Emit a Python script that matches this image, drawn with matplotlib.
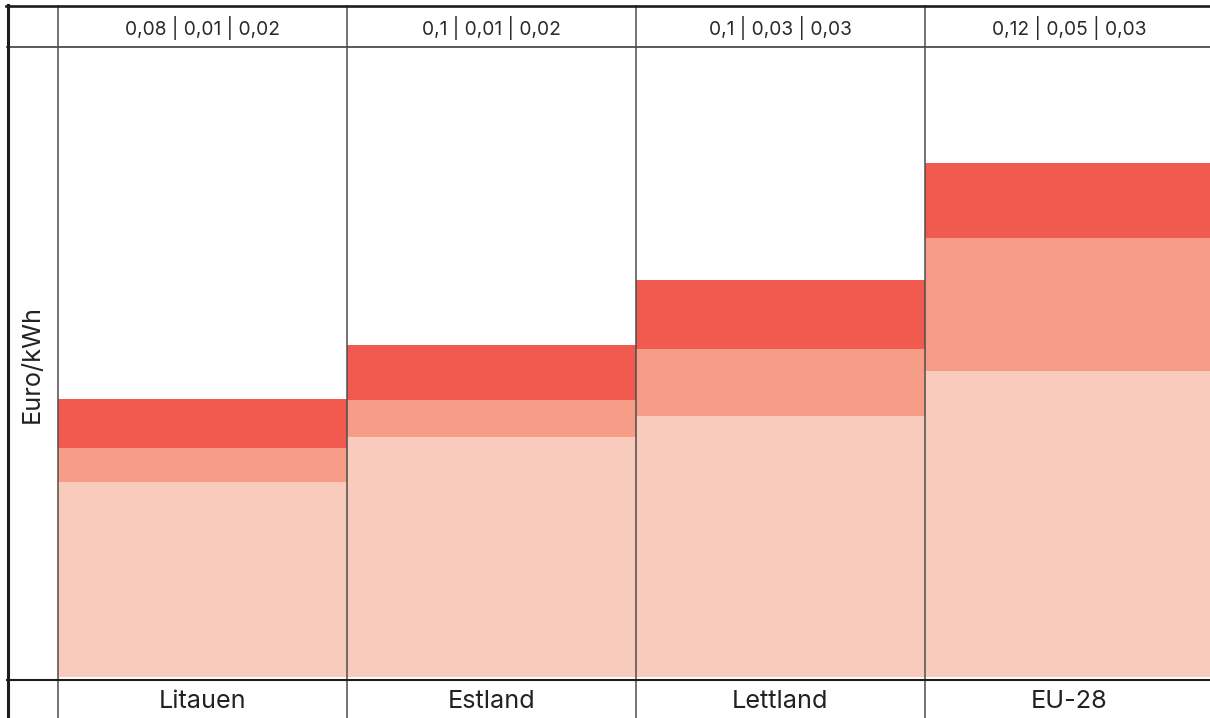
import matplotlib
matplotlib.use("Agg")
import matplotlib.pyplot as plt
from matplotlib.lines import Line2D
from matplotlib import transforms

plt.rcParams['font.family'] = ['Inter', 'DejaVu Sans']

# Strompreis-Zusammensetzung in Euro/kWh
laender = ['Litauen', 'Estland', 'Lettland', 'EU-28']
energie = [0.0776, 0.0952, 0.1037, 0.1215]
netz = [0.0134, 0.0149, 0.0266, 0.0527]
steuern = [0.0194, 0.0218, 0.0274, 0.0297]

farben = ['#F9CBBC', '#F59D87', '#F05A4F']
linie_dunkel = '#1c1c1c'
linie_grau = '#4d4d4d'

W, H = 1210, 718
fig = plt.figure(figsize=(W / 100, H / 100), dpi=100)


def fx(px):
    return px / W


def fy(py):
    return 1 - py / H


# Plotbereich zwischen Kopfzeile und Fusszeile
ax_l, ax_r, ax_t, ax_b = 58, 1210, 47, 680
ax = fig.add_axes([fx(ax_l), fy(ax_b), fx(ax_r - ax_l), fy(ax_t) - fy(ax_b)])

x = list(range(len(laender)))
unten2 = [a + b for a, b in zip(energie, netz)]
ax.bar(x, energie, width=1, color=farben[0], linewidth=0)
ax.bar(x, netz, width=1, bottom=energie, color=farben[1], linewidth=0)
ax.bar(x, steuern, width=1, bottom=unten2, color=farben[2], linewidth=0)

ax.set_xlim(-0.5, -0.5 + (ax_r - ax_l) / 289)
ax.set_ylim(-0.001, 0.25)
ax.axis('off')

# x in Datenkoordinaten, y in Figurkoordinaten
trans = transforms.blended_transform_factory(ax.transData, fig.transFigure)

# Spaltenlinien an den Balkengrenzen
for xe in [-0.5, 0.5, 1.5, 2.5]:
    fig.add_artist(Line2D([xe, xe], [fy(6), 0], transform=trans,
                          color=linie_grau, lw=1.1, clip_on=False))

# Zeilenlinien und Rahmen
fig.add_artist(Line2D([fx(7), 1], [fy(47), fy(47)], color=linie_grau, lw=1.3))
fig.add_artist(Line2D([fx(7), 1], [fy(680), fy(680)], color=linie_dunkel, lw=1.5))
fig.add_artist(Line2D([fx(6), 1], [fy(5.5), fy(5.5)], color=linie_dunkel, lw=1.9))
fig.add_artist(Line2D([fx(7.5), fx(7.5)], [fy(4.5), 0], color=linie_dunkel, lw=2.2))


def fmt(v):
    return f"{round(v, 2):g}".replace('.', ',')


# Kopfzeile mit den Werten, Fusszeile mit den Laendern
for i in x:
    kopf = ' | '.join(fmt(v) for v in (energie[i], netz[i], steuern[i]))
    fig.text(i, fy(28), kopf, transform=trans, ha='center', va='center',
             fontsize=13.8, color='#2a2a2a')
    fig.text(i, fy(701), laender[i], transform=trans, ha='center', va='center',
             fontsize=18.2, color='#222222')

fig.text(fx(32), fy(364), 'Euro/kWh', rotation=90, ha='center', va='center',
         fontsize=18.2, color='#222222')

fig.savefig('out.png', dpi=100)
